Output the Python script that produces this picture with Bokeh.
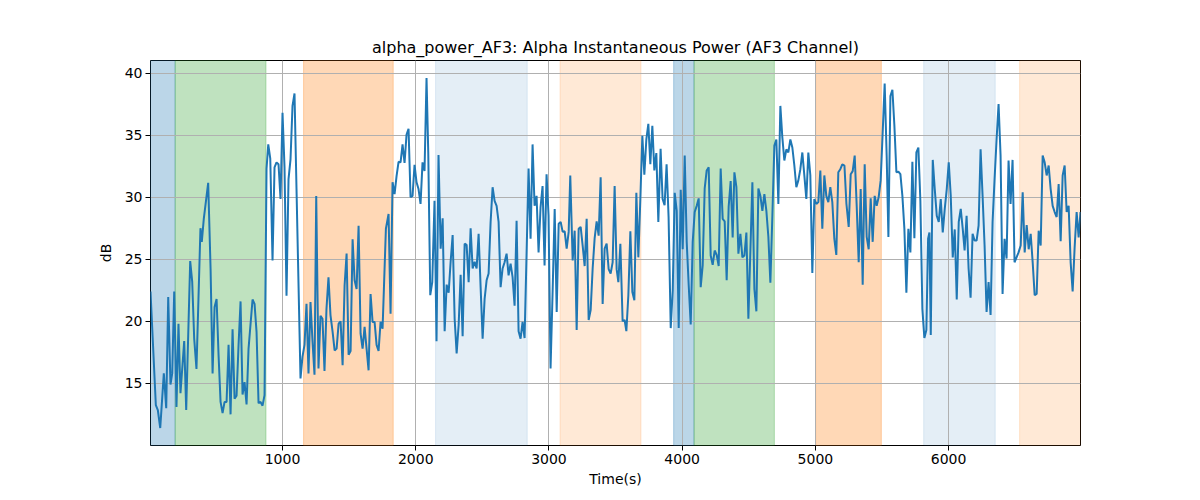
from bokeh.plotting import figure
from bokeh.models import BoxAnnotation, Range1d, FixedTicker
from bokeh.embed import file_html
from bokeh.resources import INLINE

# alpha power of channel AF3
times = [
    9, 49, 64, 82, 109, 127, 142, 159, 172, 187, 204, 219, 234, 262, 277, 307, 322, 337, 354, 369,
    384, 394, 409, 442, 460, 475, 490, 505, 520, 535, 550, 565, 580, 595, 610, 625, 640, 655, 670, 685,
    700, 715, 730, 745, 775, 790, 805, 820, 835, 850, 865, 880, 893, 908, 925, 940, 955, 970, 985, 1000,
    1015, 1030, 1045, 1060, 1075, 1090, 1105, 1135, 1150, 1165, 1180, 1195, 1210, 1225, 1240, 1253, 1270, 1285, 1300, 1315,
    1330, 1345, 1360, 1376, 1391, 1406, 1421, 1436, 1451, 1466, 1481, 1496, 1511, 1526, 1541, 1556, 1571, 1586, 1601, 1616,
    1631, 1646, 1661, 1676, 1691, 1706, 1721, 1736, 1751, 1761, 1776, 1796, 1811, 1826, 1841, 1856, 1871, 1886, 1901, 1916,
    1931, 1946, 1961, 1976, 1991, 2006, 2021, 2036, 2051, 2066, 2081, 2094, 2109, 2124, 2141, 2156, 2171, 2187, 2202, 2217,
    2232, 2247, 2262, 2277, 2292, 2307, 2322, 2337, 2352, 2367, 2382, 2397, 2412, 2427, 2442, 2457, 2472, 2487, 2502, 2517,
    2532, 2547, 2562, 2577, 2592, 2607, 2622, 2637, 2652, 2667, 2682, 2697, 2712, 2727, 2742, 2757, 2772, 2787, 2802, 2817,
    2832, 2847, 2862, 2877, 2892, 2907, 2922, 2937, 2952, 2967, 2982, 2997, 3012, 3028, 3043, 3058, 3073, 3088, 3103, 3118,
    3133, 3148, 3160, 3178, 3193, 3208, 3223, 3238, 3253, 3268, 3283, 3298, 3313, 3328, 3343, 3358, 3373, 3388, 3403, 3418,
    3433, 3448, 3463, 3478, 3493, 3508, 3521, 3536, 3553, 3568, 3581, 3596, 3611, 3626, 3641, 3656, 3671, 3686, 3701, 3716,
    3731, 3746, 3761, 3776, 3791, 3806, 3821, 3838, 3853, 3868, 3883, 3898, 3914, 3929, 3944, 3959, 3974, 3989, 4004, 4019,
    4034, 4049, 4064, 4079, 4094, 4109, 4124, 4139, 4154, 4169, 4184, 4199, 4214, 4229, 4244, 4259, 4274, 4289, 4304, 4319,
    4334, 4349, 4364, 4379, 4392, 4407, 4422, 4437, 4452, 4467, 4482, 4497, 4527, 4542, 4557, 4572, 4587, 4602, 4617, 4632,
    4647, 4662, 4677, 4692, 4707, 4722, 4737, 4752, 4767, 4782, 4797, 4812, 4827, 4842, 4857, 4872, 4887, 4902, 4917, 4932,
    4947, 4962, 4977, 4992, 5007, 5022, 5037, 5052, 5067, 5082, 5097, 5112, 5127, 5142, 5157, 5172, 5187, 5202, 5218, 5233,
    5250, 5265, 5280, 5295, 5310, 5325, 5340, 5355, 5370, 5385, 5400, 5415, 5430, 5445, 5460, 5475, 5490, 5505, 5520, 5535,
    5548, 5563, 5578, 5593, 5608, 5623, 5638, 5653, 5668, 5683, 5698, 5713, 5728, 5743, 5758, 5773, 5788, 5803, 5818, 5833,
    5846, 5856, 5866, 5881, 5896, 5911, 5926, 5941, 5956, 5971, 5986, 6001, 6016, 6031, 6046, 6061, 6076, 6091, 6106, 6120,
    6135, 6150, 6165, 6180, 6195, 6210, 6225, 6240, 6255, 6270, 6285, 6300, 6315, 6330, 6345, 6360, 6375, 6390, 6405, 6420,
    6435, 6450, 6465, 6480, 6495, 6510, 6525, 6541, 6556, 6571, 6586, 6601, 6616, 6631, 6646, 6661, 6676, 6691, 6706, 6721,
    6736, 6751, 6766, 6781, 6796, 6811, 6826, 6841, 6856, 6871, 6886, 6901, 6916, 6931, 6946, 6961, 6976, 6990,
]
db = [
    22.4, 13.25, 12.85, 11.4, 15.8, 13.0, 21.95, 14.9, 15.8, 22.4, 13.1, 19.8, 14.2, 18.4, 12.85, 24.85, 23.2, 18.6, 16.15, 21.8,
    27.5, 26.4, 28.25, 31.15, 24.2, 15.8, 21.15, 21.8, 17.25, 13.5, 12.6, 13.5, 13.5, 18.1, 12.5, 19.35, 13.75, 14.0, 18.1, 21.6,
    14.1, 15.1, 13.3, 17.8, 21.75, 21.4, 19.15, 13.4, 13.5, 13.2, 14.05, 32.3, 34.25, 33.1, 24.9, 32.4, 32.8, 32.65, 29.85, 36.8,
    32.4, 22.05, 31.45, 33.05, 37.35, 38.35, 30.65, 15.4, 17.15, 18.1, 21.4, 15.8, 21.55, 18.4, 15.7, 30.1, 16.2, 20.45, 20.2, 16.0,
    21.0, 23.55, 20.5, 19.15, 17.65, 17.8, 19.8, 20.0, 16.45, 22.9, 25.45, 17.3, 17.6, 26.6, 23.3, 22.6, 27.7, 19.0, 17.8, 19.55,
    17.8, 16.05, 22.2, 19.95, 19.95, 18.1, 17.6, 19.95, 19.4, 22.6, 27.45, 28.65, 20.6, 31.2, 30.25, 31.7, 32.85, 32.8, 34.25, 32.75,
    35.05, 35.5, 30.0, 30.1, 32.6, 31.2, 30.65, 29.45, 32.8, 32.1, 39.6, 33.6, 22.1, 23.15, 29.7, 18.4, 33.4, 25.85, 28.3, 19.2,
    22.95, 22.3, 24.8, 26.95, 20.2, 17.4, 19.7, 23.75, 18.8, 26.25, 26.15, 23.15, 27.5, 24.25, 24.8, 24.25, 27.05, 22.75, 18.6, 21.8,
    23.3, 23.85, 28.0, 30.8, 29.7, 29.3, 28.0, 22.75, 24.25, 24.75, 25.45, 23.7, 24.65, 23.55, 21.25, 28.1, 19.2, 18.6, 19.95, 18.65,
    25.45, 32.3, 26.65, 34.25, 29.3, 30.1, 25.55, 29.2, 30.9, 24.5, 31.85, 28.5, 16.2, 22.6, 29.05, 20.75, 27.85, 28.0, 27.2, 27.25,
    25.85, 27.2, 31.75, 24.9, 27.3, 19.3, 27.45, 27.6, 26.1, 24.45, 28.25, 20.1, 20.9, 24.25, 26.7, 28.05, 26.9, 31.6, 21.4, 25.85,
    26.25, 24.2, 23.85, 24.75, 30.9, 24.2, 23.15, 26.25, 20.0, 20.1, 19.2, 22.1, 27.25, 22.35, 21.7, 30.35, 25.15, 29.85, 34.95, 31.8,
    34.65, 35.9, 32.65, 35.75, 32.15, 33.55, 28.0, 33.9, 29.85, 29.35, 32.65, 28.4, 19.45, 22.5, 30.35, 28.9, 19.45, 30.6, 25.8, 33.35,
    26.4, 22.9, 19.75, 26.4, 28.8, 29.3, 29.9, 22.75, 24.5, 30.7, 32.15, 32.4, 25.3, 24.55, 25.7, 25.35, 24.45, 32.3, 28.25, 28.05,
    23.3, 29.25, 31.3, 26.75, 32.0, 30.8, 25.45, 27.05, 25.15, 25.3, 27.15, 20.2, 31.2, 22.6, 20.8, 30.7, 30.1, 28.9, 30.25, 28.9,
    26.8, 23.1, 28.5, 34.15, 34.65, 29.45, 37.35, 34.8, 32.95, 33.85, 33.6, 34.65, 34.0, 32.55, 30.8, 31.35, 32.25, 33.6, 31.75, 29.85,
    33.6, 31.75, 23.9, 29.85, 29.45, 29.6, 32.15, 27.45, 31.75, 30.1, 29.6, 30.8, 29.6, 26.65, 25.35, 32.0, 32.25, 32.65, 32.55, 29.45,
    27.6, 31.85, 32.1, 33.35, 29.3, 24.75, 30.65, 22.95, 32.65, 26.8, 25.8, 29.9, 26.4, 30.1, 29.3, 30.0, 31.35, 35.2, 39.15, 33.35,
    26.8, 38.15, 38.65, 35.75, 32.0, 32.05, 31.85, 30.1, 27.45, 22.3, 27.45, 25.55, 32.85, 26.7, 33.6, 34.0, 29.7, 21.0, 18.65, 19.3,
    26.65, 27.15, 18.9, 33.0, 30.65, 28.5, 28.0, 29.85, 27.15, 29.05, 30.65, 32.8, 30.1, 25.15, 27.4, 21.75, 28.0, 29.05, 27.45, 25.7,
    28.5, 24.25, 21.9, 27.05, 26.5, 26.5, 27.7, 33.85, 30.1, 26.1, 20.75, 23.15, 20.5, 28.0, 31.45, 34.65, 37.5, 33.35, 22.2, 26.65,
    25.05, 32.95, 29.45, 33.0, 24.75, 25.15, 25.55, 26.1, 30.4, 25.55, 27.75, 25.8, 27.05, 24.75, 22.1, 22.2, 27.3, 26.1, 33.35, 32.8,
    31.75, 32.55, 30.65, 29.3, 28.8, 28.4, 31.05, 26.45, 31.75, 32.55, 28.8, 29.3, 24.75, 22.4, 25.95, 28.8, 26.75, 28.8,
]

# shaded phases
span_start = [9, 194, 1158, 2149, 3083, 3936, 4089, 5002, 5813, 6533]
span_end = [194, 876, 1831, 2837, 3691, 4089, 4692, 5495, 6350, 6990]
span_color = ["#1f77b4", "#2ca02c", "#ff7f0e", "#1f77b4", "#ff7f0e",
              "#1f77b4", "#2ca02c", "#ff7f0e", "#1f77b4", "#ff7f0e"]
span_alpha = [0.3, 0.3, 0.3, 0.12, 0.17, 0.3, 0.3, 0.3, 0.12, 0.17]

x_ticks = [1000, 2000, 3000, 4000, 5000, 6000]
y_ticks = [15, 20, 25, 30, 35, 40]

lo, hi = min(db), max(db)
pad = 0.05 * (hi - lo)

p = figure(
    width=1184,
    height=492,
    output_backend="svg",
    toolbar_location=None,
    x_range=Range1d(times[0], times[-1]),
    y_range=Range1d(lo - pad, hi + pad),
    min_border_left=150,
    min_border_right=104,
    min_border_top=60,
    min_border_bottom=47,
    title="alpha_power_AF3: Alpha Instantaneous Power (AF3 Channel)",
)

boxes = []
for s, e, c, a in zip(span_start, span_end, span_color, span_alpha):
    boxes.append(BoxAnnotation(left=s, right=e, fill_color=c, fill_alpha=a,
                               line_color=c, line_alpha=a, line_width=1, level="underlay"))
# spans first so the grid is drawn over them
p.center = boxes + list(p.center)

p.line(times, db, line_color="#1f77b4", line_width=2)

p.title.align = "center"
p.title.text_font = "DejaVu Sans"
p.title.text_font_size = "16px"
p.title.text_font_style = "normal"
p.title.text_color = "black"
p.title.standoff = 8

p.xaxis.ticker = FixedTicker(ticks=x_ticks)
p.yaxis.ticker = FixedTicker(ticks=y_ticks)
p.xaxis.axis_label = "Time(s)"
p.yaxis.axis_label = "dB"
for ax in (p.xaxis, p.yaxis):
    ax.axis_label_text_font = "DejaVu Sans"
    ax.axis_label_text_font_size = "14px"
    ax.axis_label_text_font_style = "normal"
    ax.axis_label_text_color = "black"
    ax.major_label_text_font = "DejaVu Sans"
    ax.major_label_text_font_size = "14px"
    ax.major_label_text_color = "black"
    ax.axis_line_color = None
    ax.major_tick_line_color = "black"
    ax.major_tick_out = 5
    ax.major_tick_in = 0
    ax.minor_tick_line_color = None
    ax.major_label_standoff = 3
    ax.axis_label_standoff = 4
p.yaxis.axis_label_standoff = 8

p.grid.grid_line_color = "#b0b0b0"
p.grid.grid_line_width = 1
p.outline_line_color = "black"
p.outline_line_width = 1
p.outline_line_alpha = 1

open("out.html", "w").write(file_html(p, INLINE))
